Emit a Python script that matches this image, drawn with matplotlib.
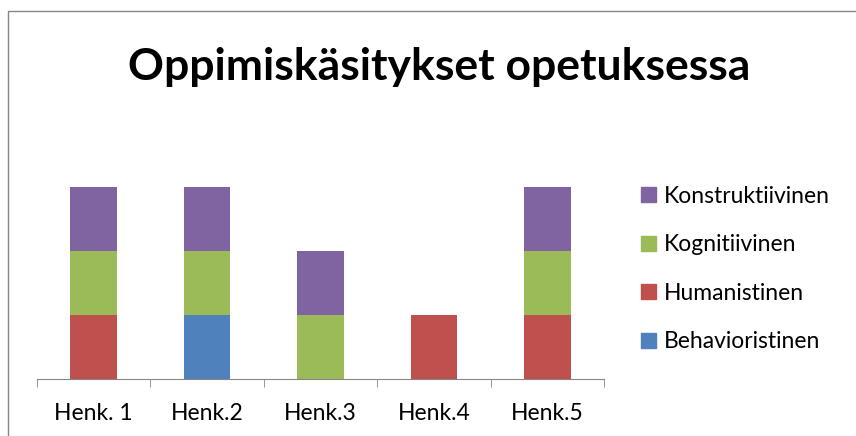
import matplotlib.pyplot as plt
import numpy as np
from matplotlib.patches import Patch, Rectangle

categories = ["Henk. 1", "Henk.2", "Henk.3", "Henk.4", "Henk.5"]
series = ["Behavioristinen", "Humanistinen", "Kognitiivinen", "Konstruktiivinen"]
behavioristinen = [0, 1, 0, 0, 0]
humanistinen = [1, 0, 0, 1, 1]
kognitiivinen = [1, 1, 1, 0, 1]
konstruktiivinen = [1, 1, 1, 0, 1]
colors = ["#4F81BD", "#C0504D", "#9BBB59", "#8064A2"]

plt.rcParams["font.family"] = ["Lato", "DejaVu Sans"]

fig = plt.figure(figsize=(8.56, 4.36), dpi=100)
W, H = 856, 436
ax = fig.add_axes([37 / W, 57 / H, 567 / W, 192 / H])

x = np.arange(len(categories))
bottom = np.zeros(len(categories))
for name, vals, c in zip(series, [behavioristinen, humanistinen, kognitiivinen, konstruktiivinen], colors):
    ax.bar(x, vals, width=0.41, bottom=bottom, color=c, label=name)
    bottom += np.array(vals)

ax.set_xlim(-0.5, len(categories) - 0.5)
ax.set_ylim(0, 3)
for s in ["top", "right", "left"]:
    ax.spines[s].set_visible(False)
ax.spines["bottom"].set_color("#868686")
ax.set_yticks([])
ax.set_xticks(x)
ax.set_xticklabels(categories, fontsize=16.5)
ax.tick_params(axis="x", which="major", length=0, pad=17)
ax.set_xticks(np.arange(-0.5, len(categories)), minor=True)
ax.tick_params(axis="x", which="minor", length=6, color="#868686", direction="out")

handles = [Patch(color=c) for c in colors][::-1]
fig.legend(handles, series[::-1], loc="center left", bbox_to_anchor=(620 / W, 1 - 269 / H),
           frameon=False, fontsize=16.5, handlelength=0.65, handleheight=0.65,
           handletextpad=0.35, labelspacing=1.2)

fig.text(439 / W, 1 - 67 / H, "Oppimiskäsitykset opetuksessa", ha="center", va="center",
         fontsize=32, fontweight="bold")

fig.patches.append(Rectangle((8 / W, -0.1), 2, 1 - 11 / H + 0.1, transform=fig.transFigure,
                             fill=False, edgecolor="#868686", lw=1))

fig.savefig("out.png", dpi=100)
